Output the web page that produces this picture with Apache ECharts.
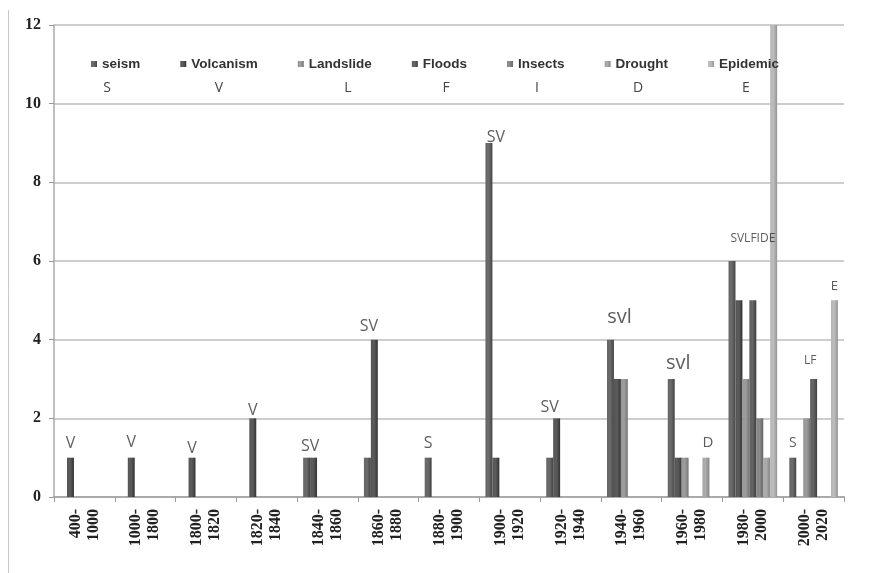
<!DOCTYPE html>
<html>
<head>
<meta charset="utf-8">
<script src="https://cdn.jsdelivr.net/npm/echarts@6/dist/echarts.min.js"></script>
<style>
  html, body { margin: 0; padding: 0; background: #ffffff; }
  #chart { width: 873px; height: 573px; }
</style>
</head>
<body>
<div id="chart"></div>
<script>
// ---- DATA ----
const categories = ['400-1000', '1000-1800', '1800-1820', '1820-1840', '1840-1860', '1860-1880',
  '1880-1900', '1900-1920', '1920-1940', '1940-1960', '1960-1980', '1980-2000', '2000-2020'];
const seriesNames = ['seism', 'Volcanism', 'Landslide', 'Floods', 'Insects', 'Drought', 'Epidemic'];
const seism     = [0, 0, 0, 0, 1, 1, 1, 9, 1, 4, 3, 6, 1];
const volcanism = [1, 1, 1, 2, 1, 4, 0, 1, 2, 3, 1, 5, 0];
const landslide = [0, 0, 0, 0, 0, 0, 0, 0, 0, 3, 1, 3, 2];
const floods    = [0, 0, 0, 0, 0, 0, 0, 0, 0, 0, 0, 5, 3];
const insects   = [0, 0, 0, 0, 0, 0, 0, 0, 0, 0, 0, 2, 0];
const drought   = [0, 0, 0, 0, 0, 0, 0, 0, 0, 0, 1, 1, 0];
const epidemic  = [0, 0, 0, 0, 0, 0, 0, 0, 0, 0, 0, 12, 5];
const yTicks = [0, 2, 4, 6, 8, 10, 12];
const legendLetters = ['S', 'V', 'L', 'F', 'I', 'D', 'E'];
// annotations written above the bar groups: text, category index, series slot it refers to, height
const annText = ['V', 'V', 'V', 'V', 'SV', 'SV', 'S', 'SV', 'SV', 'svl', 'svl', 'D', 'SVLFIDE', 'S', 'LF', 'E'];
const annCat  = [0, 1, 2, 3, 4, 5, 6, 7, 8, 9, 10, 10, 11, 12, 12, 12];
const annSlot = [1, 1, 1, 1, 0.5, 0.2, 0, 1, 0, 1.3, 1, 5.3, 3, 0, 2.5, 6];
const annY    = [1.36, 1.39, 1.23, 2.2, 1.28, 4.33, 1.36, 9.13, 2.28, 4.56, 3.39, 1.39, 6.56, 1.36, 3.46, 5.36];

// ---- STYLE ----
const seriesValues = [seism, volcanism, landslide, floods, insects, drought, epidemic];
const barColors = ['#5a5a5a', '#4a4a4a', '#8c8c8c', '#545454', '#7a7a7a', '#9a9a9a', '#ababab'];
const annFontSize = [16, 16, 16, 16, 16, 16, 16, 16, 16, 20, 20, 15, 12, 14, 12, 13];
const letterX = [107, 219, 348, 446, 537, 638, 746];
const slotFrac = 0.8 / 7;

function shade(hex, amt) {
  const n = parseInt(hex.slice(1), 16);
  let r = (n >> 16) & 255, g = (n >> 8) & 255, b = n & 255;
  r = Math.max(0, Math.min(255, r + amt));
  g = Math.max(0, Math.min(255, g + amt));
  b = Math.max(0, Math.min(255, b + amt));
  return 'rgb(' + r + ',' + g + ',' + b + ')';
}

const barSeries = seriesNames.map((name, i) => ({
  name: name,
  type: 'bar',
  xAxisIndex: 0,
  data: seriesValues[i],
  barGap: '0%',
  barCategoryGap: '20%',
  itemStyle: {
    color: {
      type: 'linear', x: 0, y: 0, x2: 1, y2: 0,
      colorStops: [
        { offset: 0, color: shade(barColors[i], 10) },
        { offset: 0.45, color: shade(barColors[i], 18) },
        { offset: 1, color: shade(barColors[i], -22) }
      ]
    }
  },
  emphasis: { disabled: true }
}));

const annSeries = {
  type: 'scatter',
  xAxisIndex: 1,
  symbolSize: 0,
  silent: true,
  z: 5,
  data: annText.map((t, k) => ({
    value: [annCat[k] + (annSlot[k] - 3) * slotFrac, annY[k]],
    label: {
      show: true,
      position: 'inside',
      formatter: t,
      fontSize: annFontSize[k],
      fontFamily: 'Open Sans, DejaVu Sans, sans-serif',
      color: '#333'
    }
  }))
};

const chart = echarts.init(document.getElementById('chart'), null, { renderer: 'canvas' });
chart.setOption({
  animation: false,
  backgroundColor: '#ffffff',
  color: barColors,
  grid: { left: 54, right: 29, top: 25, bottom: 76, containLabel: false },
  legend: {
    data: seriesNames,
    left: 86,
    top: 52,
    itemGap: 40,
    itemWidth: 6,
    itemHeight: 6,
    icon: 'rect',
    selectedMode: false,
    textStyle: { fontFamily: 'Liberation Sans, Arial, sans-serif', fontWeight: 'bold', fontSize: 13.5, color: '#333' }
  },
  graphic: [
    { type: 'line', shape: { x1: 8.5, y1: 10, x2: 8.5, y2: 573 }, style: { stroke: '#c8c8c8', lineWidth: 1 }, silent: true }
  ].concat(legendLetters.map((t, i) => ({
    type: 'text',
    x: letterX[i],
    y: 88,
    silent: true,
    style: { text: t, align: 'center', verticalAlign: 'middle', fontSize: 14, fontFamily: 'Open Sans, DejaVu Sans, sans-serif', fill: '#444' }
  }))),
  xAxis: [
    {
      type: 'category',
      data: categories,
      axisLine: { show: true, lineStyle: { color: '#aaa', width: 2 } },
      axisTick: { show: true, length: 5, lineStyle: { color: '#999' } },
      axisLabel: {
        rotate: 90,
        margin: 12,
        interval: 0,
        formatter: v => v.replace('-', '-\n'),
        fontFamily: 'Liberation Serif, Times New Roman, serif',
        fontWeight: 'bold',
        fontSize: 16,
        lineHeight: 18,
        color: '#222'
      }
    },
    { type: 'value', min: -0.5, max: 12.5, show: false }
  ],
  yAxis: {
    type: 'value',
    min: 0,
    max: 12,
    interval: 2,
    axisLine: { show: true, onZero: false, lineStyle: { color: '#aaa', width: 1.5 } },
    axisTick: { show: true, length: 5, lineStyle: { color: '#999' } },
    axisLabel: {
      margin: 13,
      fontFamily: 'Liberation Serif, Times New Roman, serif',
      fontWeight: 'bold',
      fontSize: 16,
      color: '#222',
      formatter: v => (yTicks.indexOf(v) >= 0 ? String(v) : '')
    },
    splitLine: { show: true, lineStyle: { color: '#bdbdbd', width: 1.5 } }
  },
  series: barSeries.concat([annSeries])
});
</script>
</body>
</html>
